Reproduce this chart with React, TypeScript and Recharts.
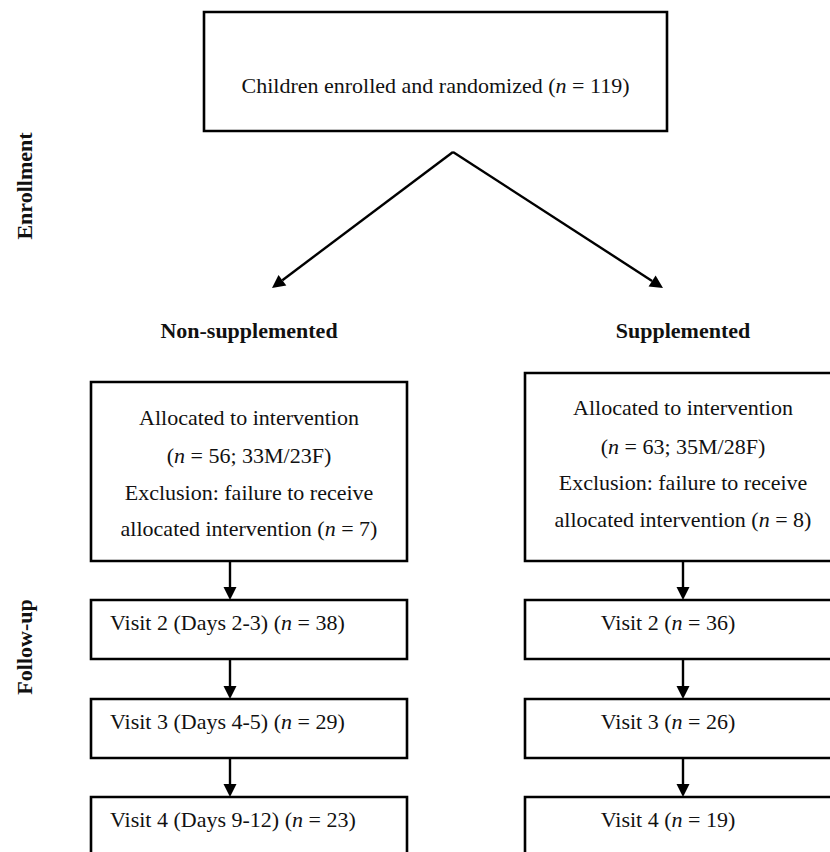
import { ScatterChart, Scatter, XAxis, YAxis, ReferenceArea, ReferenceLine } from 'recharts';

const W = 830;
const H = 852;

// flow counts
const ENROLLED = 119;
const GROUPS = ['Non-supplemented', 'Supplemented'];
const ALLOCATED = [56, 63];
const MALES = [33, 35];
const FEMALES = [23, 28];
const EXCLUDED = [7, 8];
const VISITS = ['Visit 2', 'Visit 3', 'Visit 4'];
const VISIT_DAYS = ['Days 2-3', 'Days 4-5', 'Days 9-12'];
const VISIT_N_NON = [38, 29, 23];
const VISIT_N_SUP = [36, 26, 19];
const PHASES = ['Enrollment', 'Follow-up'];

// layout (chart units = pixels)
const TOP_BOX = { x1: 204, x2: 667, y1: 12, y2: 131, cy: 85 };
const COL_X = [
  { x1: 91, x2: 407, arrow: 230, text: 249, visitText: 110, anchor: 'start' },
  { x1: 525, x2: 841, arrow: 683, text: 683, visitText: 668, anchor: 'middle' },
];
const ALLOC_Y = [
  { y1: 382, y2: 561, lines: [417, 455, 492, 528] },
  { y1: 373, y2: 561, lines: [407, 446, 482, 519] },
];
const VISIT_Y = [
  { y1: 600, y2: 659 },
  { y1: 699, y2: 758 },
  { y1: 797, y2: 858 },
];
const APEX = { x: 453, y: 152 };
const SPLIT_TIPS = [
  { x: 272, y: 288 },
  { x: 663, y: 288 },
];
const GROUP_LABEL_Y = 330;
const PHASE_POS = [
  { x: 24, y: 186 },
  { x: 24, y: 647 },
];

const FONT = '"Liberation Serif", "Times New Roman", serif';
const INK = '#111';

type TextItem = {
  x: number;
  y: number;
  text: string;
  anchor?: string;
  bold?: boolean;
  rotate?: boolean;
};

const texts: TextItem[] = [
  { x: (TOP_BOX.x1 + TOP_BOX.x2) / 2, y: TOP_BOX.cy, text: `Children enrolled and randomized (n = ${ENROLLED})` },
];
GROUPS.forEach((g, i) => {
  texts.push({ x: COL_X[i].text, y: GROUP_LABEL_Y, text: g, bold: true });
  const lines = [
    'Allocated to intervention',
    `(n = ${ALLOCATED[i]}; ${MALES[i]}M/${FEMALES[i]}F)`,
    'Exclusion: failure to receive',
    `allocated intervention (n = ${EXCLUDED[i]})`,
  ];
  lines.forEach((t, k) => texts.push({ x: COL_X[i].text, y: ALLOC_Y[i].lines[k], text: t }));
  VISITS.forEach((v, j) => {
    const t = i === 0 ? `${v} (${VISIT_DAYS[j]}) (n = ${VISIT_N_NON[j]})` : `${v} (n = ${VISIT_N_SUP[j]})`;
    texts.push({ x: COL_X[i].visitText, y: VISIT_Y[j].y1 + 22, text: t, anchor: COL_X[i].anchor });
  });
});
PHASES.forEach((p, i) => texts.push({ x: PHASE_POS[i].x, y: PHASE_POS[i].y, text: p, bold: true, rotate: true }));

function renderRich(s: string) {
  const parts = s.split('(n = ');
  return parts.map((p, i) =>
    i === 0 ? (
      <tspan key={i}>{p}</tspan>
    ) : (
      <tspan key={i}>
        <tspan>(</tspan>
        <tspan fontStyle="italic">n</tspan>
        <tspan>{' = ' + p}</tspan>
      </tspan>
    ),
  );
}

function TextShape(props: any) {
  const { cx, cy, payload } = props;
  return (
    <text
      x={cx}
      y={cy}
      dy="0.35em"
      textAnchor={payload.anchor ?? 'middle'}
      fontFamily={FONT}
      fontSize={22}
      fontWeight={payload.bold ? 'bold' : 'normal'}
      fill={INK}
      transform={payload.rotate ? `rotate(-90 ${cx} ${cy})` : undefined}
      style={{ whiteSpace: 'pre' }}
    >
      {renderRich(payload.text)}
    </text>
  );
}

function ArrowShape(props: any) {
  const { x1, y1, x2, y2, head } = props;
  const a = Math.atan2(y2 - y1, x2 - x1);
  const len = 13;
  const half = 6.5;
  const bx = x2 - len * Math.cos(a);
  const by = y2 - len * Math.sin(a);
  const px = -Math.sin(a) * half;
  const py = Math.cos(a) * half;
  return (
    <g>
      <line x1={x1} y1={y1} x2={head ? bx : x2} y2={head ? by : y2} stroke="#000" strokeWidth={2.4} />
      {head && <polygon points={`${x2},${y2} ${bx + px},${by + py} ${bx - px},${by - py}`} fill="#000" />}
    </g>
  );
}

const boxStyle = { stroke: '#000', strokeWidth: 2.6, fill: 'none', fillOpacity: 0 };

export default function App() {
  return (
    <div style={{ position: 'absolute', left: 0, top: 0, width: W, height: H, background: '#fff' }}>
      <ScatterChart width={W} height={H} margin={{ top: 0, right: 0, bottom: 0, left: 0 }}>
        <XAxis type="number" dataKey="x" domain={[0, W]} allowDataOverflow hide />
        <YAxis type="number" dataKey="y" domain={[0, H]} allowDataOverflow reversed hide />

        <ReferenceArea x1={TOP_BOX.x1} x2={TOP_BOX.x2} y1={TOP_BOX.y1} y2={TOP_BOX.y2} ifOverflow="visible" {...boxStyle} />
        {COL_X.map((c, i) => (
          <ReferenceArea
            key={`alloc-${i}`}
            x1={c.x1}
            x2={c.x2}
            y1={ALLOC_Y[i].y1}
            y2={ALLOC_Y[i].y2}
            ifOverflow="visible"
            {...boxStyle}
          />
        ))}
        {COL_X.map((c, i) =>
          VISIT_Y.map((v, j) => (
            <ReferenceArea
              key={`visit-${i}-${j}`}
              x1={c.x1}
              x2={c.x2}
              y1={v.y1}
              y2={v.y2}
              ifOverflow="visible"
              {...boxStyle}
            />
          )),
        )}

        {SPLIT_TIPS.map((t, i) => (
          <ReferenceLine
            key={`split-${i}`}
            segment={[{ x: APEX.x, y: APEX.y }, { x: t.x, y: t.y }]}
            ifOverflow="visible"
            shape={(p: any) => <ArrowShape {...p} head />}
          />
        ))}
        {COL_X.map((c, i) =>
          VISIT_Y.map((v, j) => {
            const from = j === 0 ? ALLOC_Y[i].y2 : VISIT_Y[j - 1].y2;
            return (
              <ReferenceLine
                key={`down-${i}-${j}`}
                segment={[{ x: c.arrow, y: from }, { x: c.arrow, y: v.y1 }]}
                ifOverflow="visible"
                shape={(p: any) => <ArrowShape {...p} head />}
              />
            );
          }),
        )}

        <Scatter data={texts} shape={<TextShape />} isAnimationActive={false} />
      </ScatterChart>
    </div>
  );
}
